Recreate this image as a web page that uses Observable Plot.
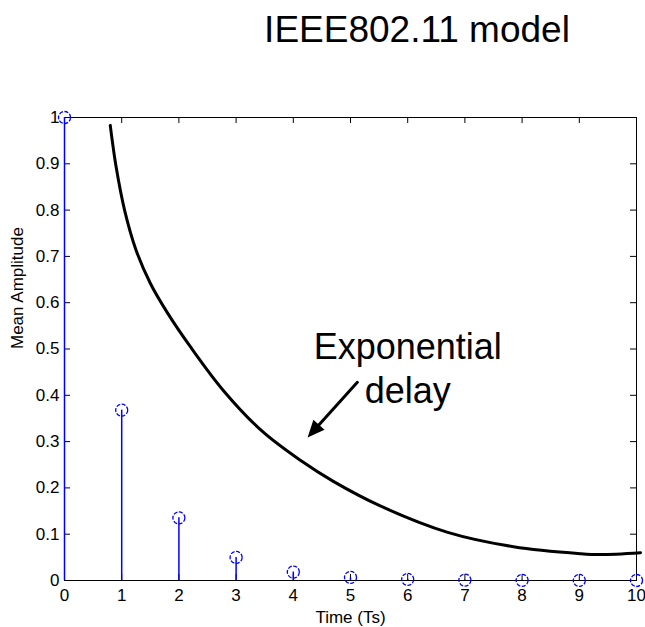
<!DOCTYPE html>
<html>
<head>
<meta charset="utf-8">
<script src="https://cdn.jsdelivr.net/npm/d3@7"></script>
<script src="https://cdn.jsdelivr.net/npm/@observablehq/plot@0.6"></script>
<style>
  body { margin: 0; background: #fff; font-family: "Liberation Sans", Arial, sans-serif; }
  #wrap { position: relative; width: 645px; height: 627px; }
  #title { position: absolute; left: 417px; top: 11px; transform: translateX(-50%);
           font-size: 37px; line-height: 37px; white-space: nowrap; color: #000; }
  #chart { position: absolute; left: 0; top: 70px; }
</style>
</head>
<body>
<div id="wrap">
  <div id="title">IEEE802.11 model</div>
  <div id="chart"></div>
</div>
<script>
// Discrete power-delay profile: mean tap amplitude per sample period
const timeTs = [0, 1, 2, 3, 4, 5, 6, 7, 8, 9, 10];
const meanAmplitude = [1, 0.3679, 0.1353, 0.0498, 0.0183, 0.0067, 0.0025, 0.0009, 0.0003, 0.0001, 0.00005];

// Hand-drawn envelope sketched over the stems
const envelopeTime = [0.80, 0.90, 1.05, 1.25, 1.50, 1.80, 2.20, 2.78, 3.45, 4.13, 4.70, 5.52, 6.70, 7.85, 9.02, 9.37, 10.07];
const envelopeAmp  = [0.983, 0.895, 0.800, 0.714, 0.642, 0.578, 0.505, 0.410, 0.323, 0.259, 0.214, 0.161, 0.104, 0.073, 0.058, 0.056, 0.060];

// Axis ticks
const xTicks = [0, 1, 2, 3, 4, 5, 6, 7, 8, 9, 10];
const yTicks = [0, 0.1, 0.2, 0.3, 0.4, 0.5, 0.6, 0.7, 0.8, 0.9, 1];

const W = 645, H = 557;
const mT = 47, mB = 47, mL = 64, mR = 9;
const innerW = W - mL - mR, innerH = H - mT - mB;
const tickLen = 6;
const blue = "#0000ff";

const stems = timeTs.map((t, i) => ({t, a: meanAmplitude[i]}));
const envelope = envelopeTime.map((t, i) => ({t, a: envelopeAmp[i]}));
const tickStyle = {stroke: "#000", strokeOpacity: 1, strokeWidth: 1};

const chart = Plot.plot({
  width: W, height: H,
  marginTop: mT, marginBottom: mB, marginLeft: mL, marginRight: mR,
  style: {fontFamily: "'Liberation Sans', Arial, sans-serif", fontSize: "17px", color: "#000", background: "#fff"},
  x: {domain: [0, 10]},
  y: {domain: [0, 1]},
  marks: [
    Plot.frame({stroke: "#000", strokeWidth: 1}),
    // inward ticks on all four sides
    Plot.gridX(xTicks, {...tickStyle, insetTop: innerH - tickLen}),
    Plot.gridX(xTicks, {...tickStyle, insetBottom: innerH - tickLen}),
    Plot.gridY(yTicks, {...tickStyle, insetRight: innerW - tickLen}),
    Plot.gridY(yTicks, {...tickStyle, insetLeft: innerW - tickLen}),
    Plot.axisX(xTicks, {tickSize: 0, tickPadding: 8, tickFormat: d => String(d), label: null}),
    Plot.axisY(yTicks, {tickSize: 0, tickPadding: 5, tickFormat: d3.format("~g"), label: null}),
    Plot.text(["Time (Ts)"], {frameAnchor: "bottom", lineAnchor: "top", dy: 30}),
    Plot.text(["Mean Amplitude"], {frameAnchor: "left", rotate: -90, lineAnchor: "middle", dx: -47}),
    // stems
    Plot.ruleX(stems, {x: "t", y1: 0, y2: "a", stroke: blue, strokeWidth: 1.5}),
    Plot.dot(stems, {x: "t", y: "a", r: 6, stroke: blue, fill: "none", strokeWidth: 1.3, strokeDasharray: "4 1.5"}),
    // envelope sketch
    Plot.line(envelope, {x: "t", y: "a", curve: "catmull-rom", stroke: "#000", strokeWidth: 3}),
    // annotation arrow
    Plot.arrow([0], {x1: 5.12, y1: 0.428, x2: 4.25, y2: 0.309, stroke: "#000", strokeWidth: 3, headLength: 0, insetEnd: 8}),
    Plot.vector([0], {x: 4.25, y: 0.309, length: 17, rotate: 222, anchor: "end", shape: "spike", r: 7.5, fill: "#000", stroke: "none"}),
    Plot.text(["Exponential\ndelay"], {x: 6.0, y: 0.5456, fontSize: 36, lineHeight: 1.222, lineAnchor: "top", textAnchor: "middle", fill: "#000"})
  ]
});
document.getElementById("chart").appendChild(chart);
</script>
</body>
</html>
